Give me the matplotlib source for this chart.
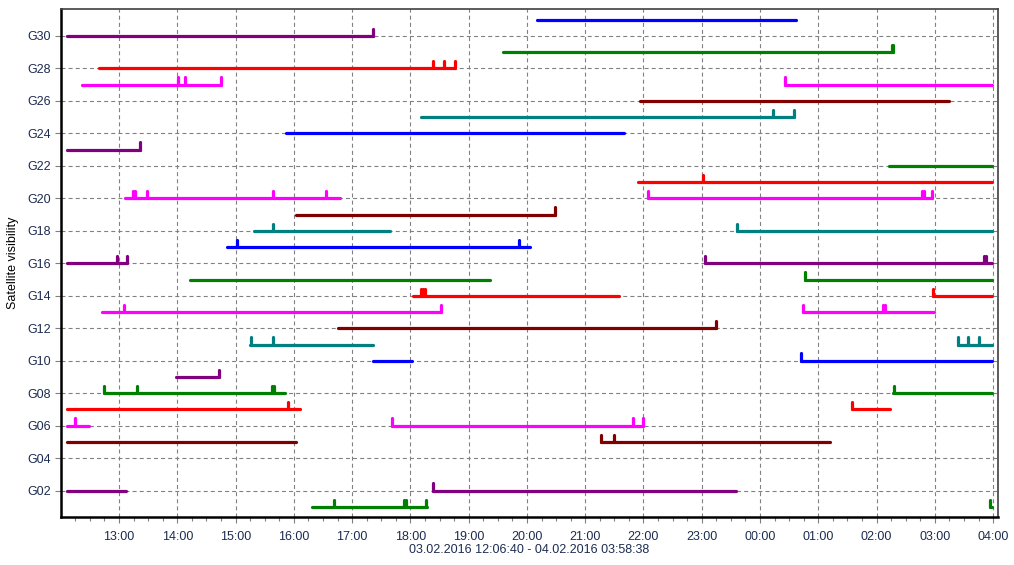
import datetime as dt
import matplotlib
matplotlib.use("Agg")
import matplotlib.pyplot as plt
import matplotlib.dates as mdates
from matplotlib.ticker import MultipleLocator, FuncFormatter

# -----------------------------------------------------------------------------
# DATA: visibility segments (satellite, start, end) and marks (satellite, time)
# times after midnight belong to 04.02.2016
# -----------------------------------------------------------------------------
t_first = "12:06:40"
t_last = "03:58:38"

seg_sat = [31, 30, 29, 28, 27, 27, 26, 25, 24, 23, 22, 21, 20, 20, 19,
           18, 18, 17, 16, 16, 15, 15, 14, 14, 13, 13, 12, 11, 11, 10,
           10, 9, 8, 8, 7, 7, 6, 6, 5, 5, 2, 2, 1, 1]
seg_start = ["20:10", t_first, "19:35", "12:39", "12:22", "00:26", "21:56", "18:11", "15:52", t_first,
             "02:13", "21:54", "13:06", "22:05", "16:02", "15:19", "23:36", "14:51", t_first, "23:03",
             "14:13", "00:46", "18:03", "02:58", "12:42", "00:44", "16:45", "15:15", "03:24", "17:21",
             "00:42", "13:59", "12:45", "02:17", t_first, "01:35", t_first, "17:41", t_first, "21:16",
             t_first, "18:23", "16:19", "03:57"]
seg_end = ["00:37", "17:21", "02:17", "18:46", "14:45", t_last, "03:15", "00:35", "21:40", "13:22",
           t_last, t_last, "16:48", "02:57", "20:29", "17:39", t_last, "20:03", "13:08", t_last,
           "19:22", t_last, "21:35", t_last, "18:32", "02:59", "23:15", "17:21", t_last, "18:02",
           t_last, "14:43", "15:51", t_last, "16:06", "02:14", "12:29", "21:59", "16:02", "01:12",
           "13:07", "23:35", "18:17", t_last]

mark_sat = [30, 29, 29, 28, 28, 28, 27, 27, 27, 27, 25, 25, 23, 21,
            20, 20, 20, 20, 20, 20, 20, 20, 20, 19, 18, 18, 17, 17,
            16, 16, 16, 16, 16, 15, 14, 14, 14, 14, 13, 13, 13, 13, 13,
            12, 11, 11, 11, 11, 11, 10, 9, 8, 8, 8, 8, 8, 7, 7,
            6, 6, 6, 6, 5, 5, 2, 1, 1, 1, 1, 1]
mark_time = ["17:21", "02:16", "02:17", "18:23", "18:35", "18:46", "14:01", "14:08", "14:45", "00:26",
             "00:13", "00:35", "13:22", "23:01",
             "13:14", "13:16", "13:29", "15:39", "16:33", "22:05", "02:47", "02:49", "02:57",
             "20:29", "15:39", "23:36", "15:01", "19:52",
             "12:58", "13:08", "23:03", "03:51", "03:53", "00:46",
             "18:11", "18:13", "18:15", "02:58",
             "13:05", "18:32", "00:44", "02:07", "02:09",
             "23:15", "15:16", "15:39", "03:24", "03:34", "03:46", "00:42", "14:43",
             "12:45", "13:18", "15:38", "15:40", "02:18", "15:54", "01:35",
             "12:15", "17:41", "21:49", "21:59", "21:16", "21:30", "18:23",
             "16:41", "17:53", "17:55", "18:16", "03:57"]

# colour cycle by satellite number (n % 7)
palette = ["#FF0000", "#008000", "#800080", "#0000FF", "#008080", "#800000", "#FF00FF"]


def to_dt(s):
    parts = [int(p) for p in s.split(":")]
    while len(parts) < 3:
        parts.append(0)
    day = 3 if parts[0] >= 12 else 4
    return dt.datetime(2016, 2, day, parts[0], parts[1], parts[2])


# -----------------------------------------------------------------------------
# FIGURE
# -----------------------------------------------------------------------------
plt.rcParams["font.family"] = ["Liberation Sans", "DejaVu Sans"]
fig = plt.figure(figsize=(10.14, 5.65), dpi=100)
ax = fig.add_axes([0.0602, 0.085, 0.9240, 0.899])

grid_kw = dict(color="#808080", linewidth=0.8, linestyle=(0, (3.6, 2.8)), zorder=0)
ax.set_axisbelow(True)

for n, s, e in zip(seg_sat, seg_start, seg_end):
    ax.plot([to_dt(s), to_dt(e)], [n, n], color=palette[n % 7], linewidth=2.3,
            solid_capstyle="round", zorder=3)

for n, t in zip(mark_sat, mark_time):
    tt = to_dt(t)
    ax.plot([tt, tt], [n, n + 0.45], color=palette[n % 7], linewidth=2.3,
            solid_capstyle="round", zorder=3)

x0 = to_dt(t_first) - dt.timedelta(minutes=6.4)
x1 = to_dt(t_last) + dt.timedelta(minutes=6.4)
ax.set_xlim(x0, x1)
ax.set_ylim(0.38, 31.66)

ax.xaxis.set_major_locator(mdates.HourLocator())
ax.xaxis.set_minor_locator(mdates.MinuteLocator(byminute=[15, 30, 45]))
ax.xaxis.set_major_formatter(mdates.DateFormatter("%H:%M"))
ax.yaxis.set_major_locator(MultipleLocator(2))
ax.yaxis.set_major_formatter(FuncFormatter(lambda v, p: "G%02d" % int(round(v))))

ax.grid(True, which="major", **grid_kw)

lab_col = "#1c2c50"
ax.tick_params(axis="both", which="major", labelsize=9, colors="#808080", labelcolor=lab_col,
               length=4, width=0.8)
ax.tick_params(axis="x", which="minor", length=3, width=0.8, colors="#808080")
ax.tick_params(axis="x", pad=6)

for side in ["left", "bottom"]:
    ax.spines[side].set_linewidth(1.8)
    ax.spines[side].set_color("black")
for side in ["top", "right"]:
    ax.spines[side].set_linewidth(1.2)
    ax.spines[side].set_color("#404040")

ax.set_ylabel("Satellite visibility", fontsize=9, color="black", labelpad=6)
ax.set_xlabel("03.02.2016 12:06:40 - 04.02.2016 03:58:38", fontsize=9, color=lab_col, labelpad=1)

fig.savefig("out.png", dpi=100)
plt.close(fig)
